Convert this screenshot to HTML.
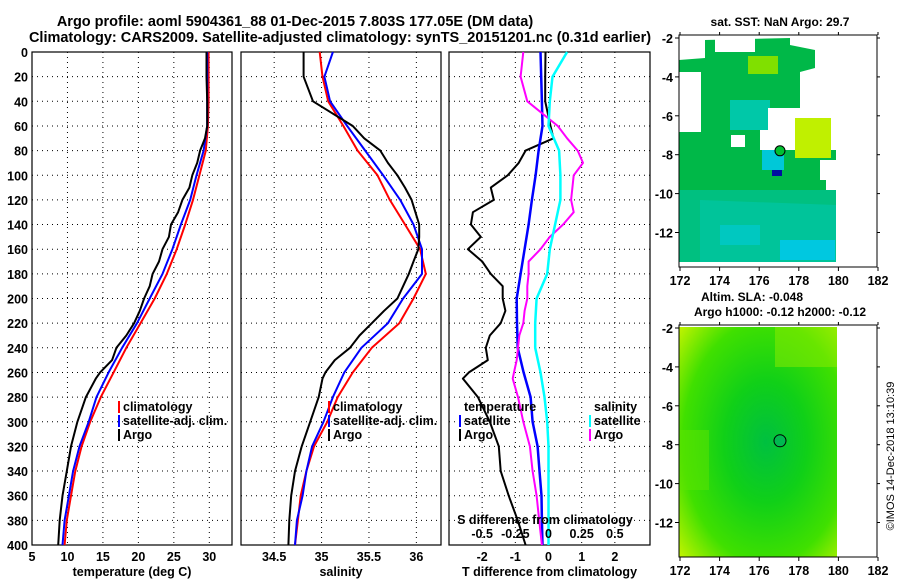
<!DOCTYPE html>
<html><head><meta charset="utf-8">
<style>
html,body{margin:0;padding:0;background:#fff;}
svg text{font-family:"Liberation Sans",sans-serif;font-weight:bold;fill:#000;}
</style></head>
<body>
<svg id="fig" width="900" height="580" viewBox="0 0 900 580" xmlns="http://www.w3.org/2000/svg">
<text x="295" y="26" font-size="14.5" text-anchor="middle">Argo profile: aoml 5904361_88 01-Dec-2015 7.803S 177.05E (DM data)</text>
<text x="340" y="42" font-size="14.5" text-anchor="middle">Climatology: CARS2009. Satellite-adjusted climatology: synTS_20151201.nc (0.31d earlier)</text>
<g id="plots"></g>
<g id="maps"></g>
<text x="780" y="26" font-size="12" text-anchor="middle">sat. SST: NaN Argo: 29.7</text>
<text x="752" y="301" font-size="12" text-anchor="middle">Altim. SLA: -0.048</text>
<text x="780" y="316" font-size="12" text-anchor="middle">Argo h1000: -0.12 h2000: -0.12</text>
<text transform="translate(894,456) rotate(-90)" font-size="11" text-anchor="middle" style="font-weight:normal">©IMOS 14-Dec-2018 13:10:39</text>
</svg>
<script>
// ---- data ----
const depths = [0,20,40,60,80,100,120,140,160,180,200,220,240,260,280,300,320,340,360,380,400];
const tempClim = [29.9,29.9,29.9,29.8,29.5,28.6,27.7,26.6,25.4,24.0,22.3,20.3,18.3,16.5,14.7,13.2,12.0,11.1,10.5,9.9,9.6];
const tempSat  = [29.7,29.7,29.7,29.7,29.2,28.2,27.3,26.0,24.8,23.4,21.6,19.8,17.7,15.8,14.1,13.0,11.7,10.8,10.2,9.6,9.3];
const argoDepths = [0,20,40,60,70,80,90,100,110,120,130,140,150,160,170,180,190,200,210,220,230,240,250,260,265,280,300,320,340,360,380,400];
const tempArgo = [29.6,29.6,29.7,29.7,29.4,28.7,28.3,27.6,27.2,26.2,25.6,24.6,24.3,23.4,22.9,22.0,21.6,20.8,20.2,19.4,18.3,16.9,16.3,14.6,14.0,12.6,11.4,10.5,9.9,9.3,8.9,8.7];
const salClim = [34.98,35.01,35.07,35.23,35.38,35.59,35.72,35.88,36.04,36.10,35.97,35.82,35.53,35.33,35.17,35.06,34.92,34.84,34.78,34.75,34.72];
const salSat  = [35.12,35.03,35.09,35.27,35.46,35.65,35.83,35.97,36.06,36.06,35.86,35.70,35.42,35.24,35.12,35.02,34.90,34.84,34.80,34.74,34.72];
const salArgo = [34.81,34.81,34.91,35.33,35.45,35.62,35.70,35.80,35.88,35.95,35.99,36.03,36.03,36.02,35.97,35.92,35.86,35.80,35.66,35.53,35.40,35.30,35.14,35.04,35.01,34.97,34.88,34.79,34.72,34.68,34.66,34.65];
const tDiffSat = [-0.24,-0.22,-0.2,-0.18,-0.3,-0.39,-0.5,-0.6,-0.72,-0.84,-0.96,-0.95,-0.93,-0.75,-0.54,-0.48,-0.33,-0.27,-0.21,-0.2,-0.18];
const tDiffArgo = [-0.09,-0.1,-0.1,0.06,0.15,-0.69,-0.9,-1.23,-1.74,-1.65,-2.28,-2.34,-2.04,-2.43,-2.0,-1.74,-1.38,-1.38,-1.3,-1.44,-1.77,-1.89,-1.83,-2.4,-2.58,-2.13,-1.77,-1.5,-1.44,-1.2,-0.93,-0.69];
const sDiffSat = [0.14,0.03,0.01,0.0,0.08,0.09,0.09,0.05,0.01,-0.01,-0.09,-0.1,-0.1,-0.06,-0.03,-0.01,0.0,0.0,0.0,0.0,0.0];
const sDiffArgo = [-0.19,-0.21,-0.16,0.07,0.14,0.22,0.26,0.19,0.18,0.17,0.19,0.11,0.01,-0.06,-0.15,-0.15,-0.16,-0.16,-0.18,-0.19,-0.22,-0.23,-0.24,-0.26,-0.27,-0.23,-0.19,-0.14,-0.12,-0.09,-0.07,-0.05];
const depthTicks = [0,20,40,60,80,100,120,140,160,180,200,220,240,260,280,300,320,340,360,380,400];
const tempTicks = [5,10,15,20,25,30];
const salTicks = [34.5,35,35.5,36];
const tDiffTicks = [-2,-1,0,1,2];
const sDiffTicks = [-0.5,-0.25,0,0.25,0.5];
const lonTicks = [172,174,176,178,180,182];
const latTicks = [-2,-4,-6,-8,-10,-12];

const NS='http://www.w3.org/2000/svg';
function mk(tag, attrs, parent){const e=document.createElementNS(NS,tag);for(const k in attrs)e.setAttribute(k,attrs[k]);parent.appendChild(e);return e;}
const plots=document.getElementById('plots');
const PT=52, PB=545;
const yD = d => PT + (d/400)*(PB-PT);
const panels = [
 {name:'temperature-panel', x0:32, x1:232, d0:5, d1:33.2, ticks:tempTicks, label:'temperature (deg C)'},
 {name:'salinity-panel', x0:241, x1:441, d0:34.15, d1:36.26, ticks:salTicks, label:'salinity'},
 {name:'difference-panel', x0:449, x1:650, d0:-3.0, d1:3.06, ticks:tDiffTicks, label:'T difference from climatology'}
];
panels.forEach(p=>{ p.sx = v => p.x0 + (v-p.d0)/(p.d1-p.d0)*(p.x1-p.x0); });
const sxS = v => panels[2].sx(v*4);

panels.forEach((p,i)=>{
  const g=mk('g',{},plots);
  
  
  depthTicks.forEach(d=>{ if(d>0&&d<400){const l=mk('line',{x1:p.x0,x2:p.x1,y1:yD(d),y2:yD(d),stroke:'#000','stroke-width':1,'stroke-dasharray':'1,4'},g);
    
    }});
  p.ticks.forEach(t=>{const x=p.sx(t); if(x>p.x0+2&&x<p.x1-2){const l=mk('line',{x1:x,x2:x,y1:PT,y2:PB,stroke:'#000','stroke-width':1,'stroke-dasharray':'1,4'},g);
    
    }
    const tx=mk('text',{x:x,y:PB+16,'font-size':12.5,'text-anchor':'middle'},g); tx.textContent=String(t);
    
    
  });
  const fr=mk('rect',{x:p.x0,y:PT,width:p.x1-p.x0,height:PB-PT,fill:'none',stroke:'#000','stroke-width':1.2},g);
  
  
  const xl=mk('text',{x:(p.x0+p.x1)/2,y:PB+31,'font-size':12.5,'text-anchor':'middle'},g); xl.textContent=p.label;
  
  
  if(i===0){ depthTicks.forEach(d=>{const t=mk('text',{x:28,y:yD(d)+5,'font-size':12.5,'text-anchor':'end'},g); t.textContent=String(d);
    
    }); }
});

function line(ds, vals, sx, color, w, name){
  const pts = ds.map((d,i)=>sx(vals[i]).toFixed(1)+','+yD(d).toFixed(1)).join(' ');
  const pl=mk('polyline',{points:pts,fill:'none',stroke:color,'stroke-width':w,'stroke-linejoin':'round'},plots);
  
  
}
const P0=panels[0], P1=panels[1], P2=panels[2];
line(depths,tempClim,P0.sx,'#ff0000',2,'temp-climatology-line');
line(depths,tempSat,P0.sx,'#0000ff',2,'temp-satellite-line');
line(argoDepths,tempArgo,P0.sx,'#000',2,'temp-argo-line');
line(depths,salClim,P1.sx,'#ff0000',2,'sal-climatology-line');
line(depths,salSat,P1.sx,'#0000ff',2,'sal-satellite-line');
line(argoDepths,salArgo,P1.sx,'#000',2,'sal-argo-line');
line(argoDepths,tDiffArgo,P2.sx,'#000',2,'tdiff-argo-line');
line(depths,tDiffSat,P2.sx,'#0000ff',2.5,'tdiff-satellite-line');
line(argoDepths,sDiffArgo,sxS,'#ff00ff',2,'sdiff-argo-line');
line(depths,sDiffSat,sxS,'#00ffff',2.5,'sdiff-satellite-line');

const st=mk('text',{x:545,y:524,'font-size':12.5,'text-anchor':'middle'},plots); st.textContent='S difference from climatology';


sDiffTicks.forEach(t=>{const e=mk('text',{x:sxS(t),y:538,'font-size':12.5,'text-anchor':'middle'},plots); e.textContent=String(t);
  
  });

function legend(x,y,entries,name){
  const g=mk('g',{},plots);
  
  
  entries.forEach((e,i)=>{
    if(e[0]){mk('rect',{x:x,y:y+i*14-10,width:2,height:12,fill:e[0]},g);}
    const t=mk('text',{x:x+5,y:y+i*14,'font-size':12.5,'font-weight':'normal'},g); t.textContent=e[1];
    
    
  });
}
legend(118,411,[['#ff0000','climatology'],['#0000ff','satellite-adj. clim.'],['#000','Argo']],'temp-legend');
legend(328,411,[['#ff0000','climatology'],['#0000ff','satellite-adj. clim.'],['#000','Argo']],'sal-legend');
legend(459,411,[[null,'temperature'],['#0000ff','satellite'],['#000','Argo']],'tdiff-legend');
legend(589,411,[[null,'salinity'],['#00ffff','satellite'],['#ff00ff','Argo']],'sdiff-legend');

// ---- maps ----
const maps=document.getElementById('maps');
function mapFrame(y0,y1,name){
  const x0=679,x1=877;
  const g=mk('g',{},maps);
  
  
  const sxL = lon => x0 + (lon-172)/10*(x1-x0)+1;
  const syL = lat => y0+3 + (-2-lat)*19.45;
  return {g,sxL,syL,x0,x1,y0,y1};
}
const m1=mapFrame(35,267,'sst-map');
{
  const g=m1.g;
  mk('path',{d:'M679,60 L705,58 L705,40 L790,38 L790,45 L815,50 L815,68 L800,72 L800,108 L760,108 L760,140 L760,150 L836,150 L836,262 L679,262 Z',fill:'#00b848'},g);
  mk('path',{d:'M679,190 L836,190 L836,262 L679,262 Z',fill:'#00c080'},g);
  mk('path',{d:'M700,200 L836,205 L836,262 L700,262 Z',fill:'#00c49a'},g);
  mk('rect',{x:780,y:240,width:55,height:20,fill:'#00c8e0'},g);
  mk('rect',{x:720,y:225,width:40,height:20,fill:'#00c8c0'},g);
  mk('rect',{x:795,y:118,width:36,height:40,fill:'#c0f000'},g);
  mk('rect',{x:748,y:56,width:30,height:18,fill:'#80e000'},g);
  mk('rect',{x:730,y:100,width:40,height:30,fill:'#00c8a8'},g);
  mk('rect',{x:762,y:150,width:22,height:20,fill:'#00c8d8'},g);
  mk('rect',{x:679,y:72,width:22,height:60,fill:'#fff'},g);
  mk('rect',{x:715,y:38,width:40,height:14,fill:'#fff'},g);
  mk('rect',{x:768,y:108,width:25,height:40,fill:'#fff'},g);
  mk('rect',{x:820,y:160,width:16,height:20,fill:'#fff'},g);
  mk('rect',{x:826,y:172,width:10,height:18,fill:'#fff'},g);
  mk('rect',{x:731,y:135,width:14,height:12,fill:'#fff'},g);
  mk('rect',{x:772,y:170,width:10,height:6,fill:'#0010a0'},g);
  mk('circle',{cx:m1.sxL(177.05),cy:m1.syL(-7.8),r:5,fill:'#00c030',stroke:'#000','stroke-width':1},g);
}
const m2=mapFrame(325,557,'sla-map');
{
  const g=m2.g;
  const defs=mk('defs',{},g);
  const rg=mk('radialGradient',{id:'sla',cx:'0.55',cy:'0.5',r:'0.75'},defs);
  mk('stop',{offset:'0','stop-color':'#00c040'},rg);
  mk('stop',{offset:'0.35','stop-color':'#10d018'},rg);
  mk('stop',{offset:'0.7','stop-color':'#40e000'},rg);
  mk('stop',{offset:'1','stop-color':'#c8f400'},rg);
  mk('rect',{x:679,y:327,width:158,height:230,fill:'url(#sla)'},g);
  mk('rect',{x:775,y:327,width:62,height:40,fill:'#90ec00',opacity:0.5},g);
  mk('rect',{x:679,y:430,width:30,height:60,fill:'#60e400',opacity:0.5},g);
  mk('circle',{cx:m2.sxL(177.05),cy:m2.syL(-7.8),r:6,fill:'#00b850',stroke:'#000','stroke-width':1},g);
}
[m1,m2].forEach(m=>{
  const fr=mk('rect',{x:m.x0,y:m.y0,width:m.x1-m.x0,height:m.y1-m.y0,fill:'none',stroke:'#000','stroke-width':1},m.g);
  
  
  lonTicks.forEach(l=>{const x=m.sxL(l);
    mk('line',{x1:x,x2:x,y1:m.y1,y2:m.y1+4,stroke:'#000'},m.g);
    mk('line',{x1:x,x2:x,y1:m.y0,y2:m.y0-3,stroke:'#000'},m.g);
    const t=mk('text',{x:x,y:m.y1+18,'font-size':12.5,'text-anchor':'middle'},m.g); t.textContent=String(l);
    
    });
  latTicks.forEach(l=>{const y=m.syL(l);
    mk('line',{x1:m.x0-4,x2:m.x0,y1:y,y2:y,stroke:'#000'},m.g);
    mk('line',{x1:m.x1,x2:m.x1+3,y1:y,y2:y,stroke:'#000'},m.g);
    const t=mk('text',{x:m.x0-6,y:y+5,'font-size':12.5,'text-anchor':'end'},m.g); t.textContent=String(l);
    
    });
});
</script>
</body></html>
